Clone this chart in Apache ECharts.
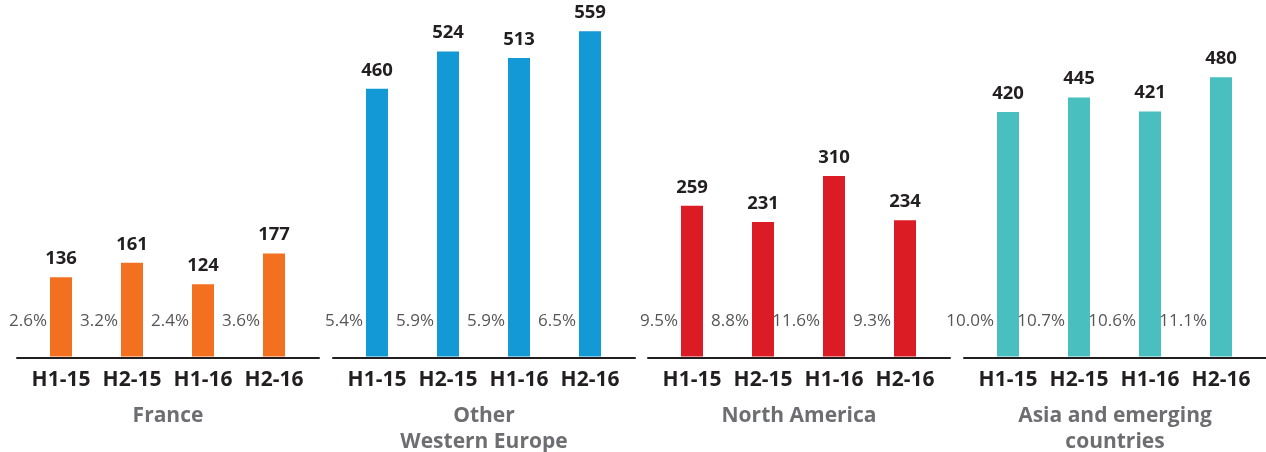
<!DOCTYPE html>
<html>
<head>
<meta charset="utf-8">
<script src="https://cdn.jsdelivr.net/npm/echarts@6/dist/echarts.min.js"></script>
<style>
  html, body { margin: 0; padding: 0; background: #ffffff; }
  #chart { width: 1266px; height: 452px; }
</style>
</head>
<body>
<div id="chart"></div>
<script>
// Half-year periods shown in every regional panel
const periods = ['H1-15', 'H2-15', 'H1-16', 'H2-16'];

// Regional panel titles
const regions = ['France', 'Other\nWestern Europe', 'North America', 'Asia and emerging\ncountries'];

// Sales per half-year
const franceSales = [136, 161, 124, 177];
const westernEuropeSales = [460, 524, 513, 559];
const northAmericaSales = [259, 231, 310, 234];
const asiaSales = [420, 445, 421, 480];

// Share (%) shown beside each bar
const franceShare = [2.6, 3.2, 2.4, 3.6];
const westernEuropeShare = [5.4, 5.9, 5.9, 6.5];
const northAmericaShare = [9.5, 8.8, 11.6, 9.3];
const asiaShare = [10.0, 10.7, 10.6, 11.1];

const salesByRegion = [franceSales, westernEuropeSales, northAmericaSales, asiaSales];
const shareByRegion = [franceShare, westernEuropeShare, northAmericaShare, asiaShare];
const regionColors = ['#f37021', '#1399d6', '#dc1c24', '#49c0bf'];

// Layout constants
const FONT = "'Open Sans', 'DejaVu Sans', sans-serif";
const DARK = '#231f20';
const PANEL_LEFT = [17, 333, 648, 964];
const PANEL_WIDTH = 302;
const BAND_INSET = 8.5;          // category bands sit inside the baseline
const BAND_WIDTH = 284;
const PLOT_HEIGHT = 349.2;
const BASELINE_TOP = 8.3;
const BAR_TOP = 7.3;
const Y_MAX = 600;
const SHARE_ROW = 61;            // height (in axis units) of the share labels

const grid = [], xAxis = [], yAxis = [], series = [], title = [];

regions.forEach((name, i) => {
  const left = PANEL_LEFT[i];

  // grid for the panel baseline
  grid.push({ left: left, top: BASELINE_TOP, width: PANEL_WIDTH, height: PLOT_HEIGHT });
  // grid for the bars
  grid.push({ left: left + BAND_INSET, top: BAR_TOP, width: BAND_WIDTH, height: PLOT_HEIGHT });

  const baseIdx = 2 * i, barIdx = 2 * i + 1;

  xAxis.push({
    gridIndex: baseIdx, type: 'value', min: 0, max: 1,
    axisLine: { show: true, lineStyle: { color: DARK, width: 2 } },
    axisTick: { show: false }, axisLabel: { show: false }, splitLine: { show: false }
  });
  yAxis.push({ gridIndex: baseIdx, type: 'value', min: 0, max: 1, show: false });

  xAxis.push({
    gridIndex: barIdx, type: 'category', data: periods,
    axisLine: { show: false }, axisTick: { show: false }, splitLine: { show: false },
    axisLabel: {
      interval: 0, margin: 13, color: DARK, fontFamily: FONT,
      fontWeight: 'bold', fontSize: 21
    }
  });
  yAxis.push({ gridIndex: barIdx, type: 'value', min: 0, max: Y_MAX, show: false });

  series.push({
    type: 'bar', xAxisIndex: barIdx, yAxisIndex: barIdx,
    data: salesByRegion[i], barWidth: 22,
    itemStyle: { color: regionColors[i] },
    label: {
      show: true, position: 'top', distance: 9,
      color: DARK, fontFamily: FONT, fontWeight: 'bold', fontSize: 18.5
    },
    silent: true, animation: false
  });

  const shares = shareByRegion[i];
  series.push({
    type: 'scatter', xAxisIndex: barIdx, yAxisIndex: barIdx,
    symbolSize: 0,
    data: shares.map((s, k) => [k, SHARE_ROW]),
    label: {
      show: true, position: 'left', distance: 14,
      color: '#2a2a2a', fontFamily: FONT, fontSize: 17,
      formatter: p => shares[p.dataIndex].toFixed(1) + '%'
    },
    silent: true, animation: false
  });

  title.push({
    text: name,
    left: left + PANEL_WIDTH / 2, top: 403, textAlign: 'center', padding: 0,
    textStyle: {
      color: '#6d6e71', fontFamily: FONT, fontWeight: 'bold',
      fontSize: 21, lineHeight: 26
    }
  });
});

const chart = echarts.init(document.getElementById('chart'), null, { renderer: 'canvas' });
chart.setOption({
  backgroundColor: '#ffffff',
  animation: false,
  textStyle: { fontFamily: FONT },
  title: title,
  grid: grid,
  xAxis: xAxis,
  yAxis: yAxis,
  series: series
});
</script>
</body>
</html>
